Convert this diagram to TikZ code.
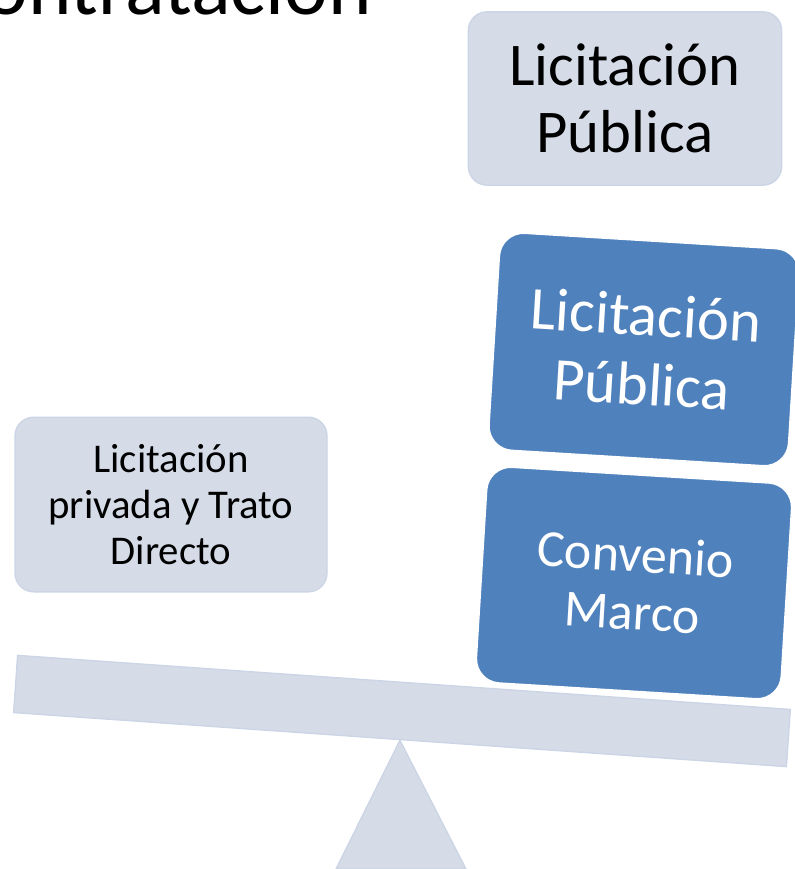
\documentclass[tikz,border=0pt]{standalone}
\usepackage{fontspec}
\setmainfont{Carlito}
\usetikzlibrary{positioning}

\definecolor{palebox}{RGB}{213,220,232}
\definecolor{paleedge}{RGB}{204,213,229}
\definecolor{accentblue}{RGB}{79,129,189}

\begin{document}
\begin{tikzpicture}
[x=0.75pt,y=-0.75pt,
 pale/.style={rectangle,rounded corners=14pt,fill=palebox,draw=paleedge,line width=1pt,align=center,inner sep=0pt},
 weight/.style={rectangle,rounded corners=18pt,fill=accentblue,draw=white,line width=1pt,text=white,align=center,inner sep=0pt,rotate=-3.5}]
\useasboundingbox (0,0) rectangle (794,869);

\node[anchor=base east,inner sep=0pt,font=\fontsize{62}{70}\selectfont] (title) at (372,14) {ontratación};

\node[pale,minimum width=235pt,minimum height=130pt,font=\fontsize{45.5}{50}\selectfont] (top) at (625,98.5) {Licitación\\Pública};
\node[pale,minimum width=234pt,minimum height=131pt,font=\fontsize{30.6}{34.5}\selectfont] (left) at (171,504.5) {Licitación\\privada y Trato\\Directo};

\node[pale,rounded corners=0pt,minimum width=581pt,minimum height=43pt,rotate=-4] (beam) at (402,711) {};
\draw[fill=palebox,draw=paleedge,line width=1pt] (beam.south) -- (336,869) -- (466,869) -- cycle;

\node[weight,minimum width=225pt,minimum height=163pt,font=\fontsize{45.5}{52}\selectfont] (upper) at (644,349.5) {Licitación\\Pública};
\node[weight,minimum width=229pt,minimum height=162pt,font=\fontsize{39}{43.5}\selectfont] (lower) at (634,583) {Convenio\\Marco};
\end{tikzpicture}
\end{document}
